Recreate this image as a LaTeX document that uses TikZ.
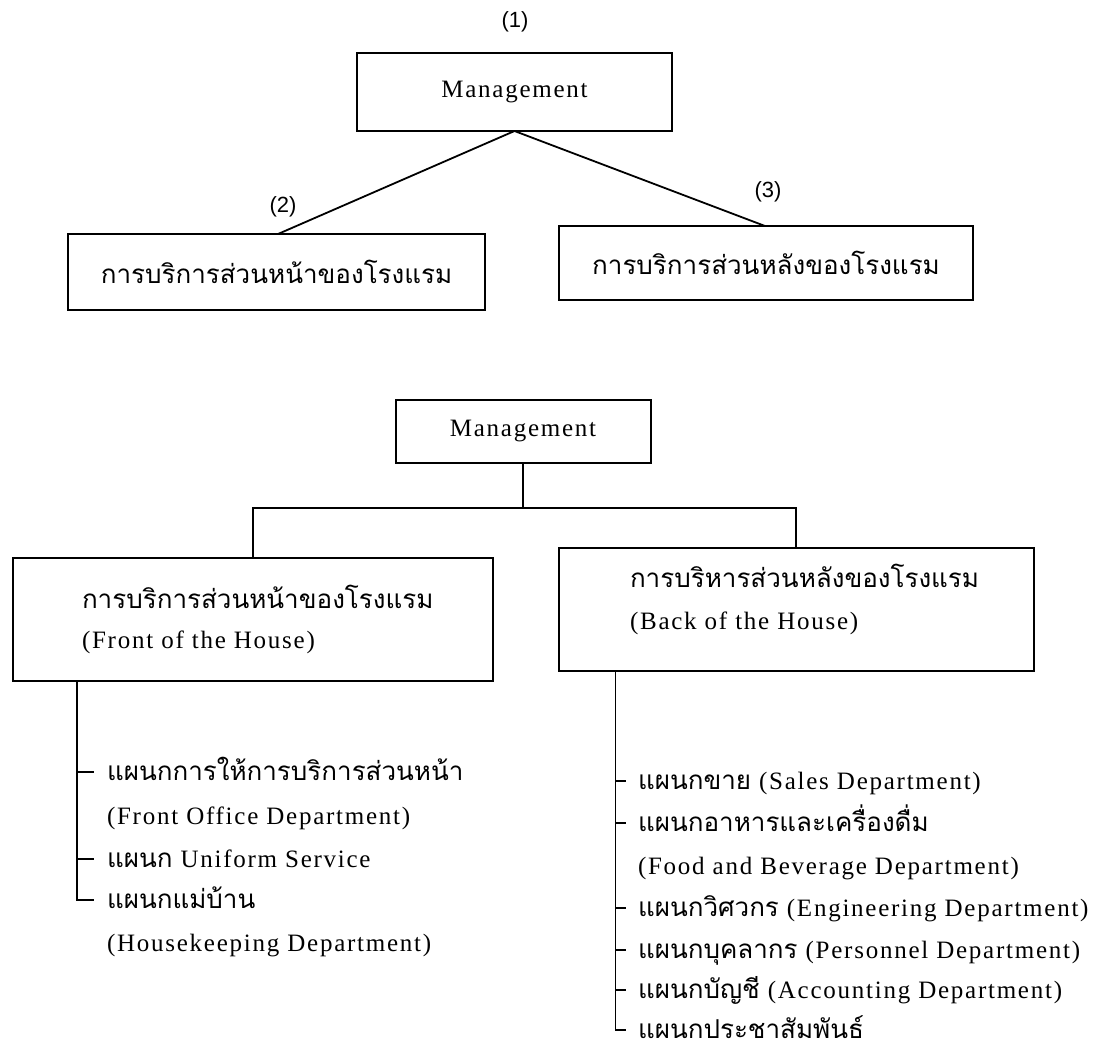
\documentclass[tikz,border=0pt]{standalone}
\usepackage{fontspec}
\setmainfont{Liberation Serif}
\newfontfamily\thaif[Script=Thai]{Loma}
\newfontfamily\engsp[LetterSpace=7]{Liberation Serif}
\newfontfamily\labfont{Liberation Sans}
\newcommand\tsz{\fontsize{26}{30}\selectfont}
\newcommand\esz{\fontsize{25}{29}\selectfont}
\begin{document}
\begin{tikzpicture}[x=1pt,y=-1pt,
  every node/.style={inner sep=0pt, outer sep=0pt},
  box/.style={draw, line width=2pt},
  conn/.style={line width=1.8pt},
  tbig/.style={font=\thaif\tsz},
  eng/.style={font=\engsp\esz},
  lab/.style={font=\labfont\fontsize{22}{26}\selectfont},
  item/.style={anchor=base west, font=\engsp\esz}]
\useasboundingbox (0,0) rectangle (1099,1050);
% ---------- upper chart ----------
\node[lab] (n1) at (515,22) {(1)};
\node[box, eng, minimum width=315pt, minimum height=78pt] (m1) at (514.5,92) {Management};
\node[box, tbig, minimum width=417pt, minimum height=76pt] (f1) at (276.5,272) {การบริการส่วนหน้าของโรงแรม};
\node[box, tbig, minimum width=414pt, minimum height=74pt] (b1) at (766,263) {การบริการส่วนหลังของโรงแรม};
\coordinate (f1t) at ([xshift=210pt]f1.north west);
\coordinate (b1t) at ([xshift=206pt]b1.north west);
\draw[conn] (m1.south) -- (f1t);
\draw[conn] (m1.south) -- (b1t);
\node[lab] (n2) at (283,207) {(2)};
\node[lab] (n3) at (768,192) {(3)};
% ---------- lower chart ----------
\node[box, eng, minimum width=255pt, minimum height=63pt] (m2) at (523,431.5) {Management};
\node[box, minimum width=480pt, minimum height=123pt] (f2) at (253,619.5) {};
\node[box, minimum width=475pt, minimum height=123pt] (b2) at (796,609.5) {};
\draw[conn] (m2.south) -- ++(0,45) coordinate (j);
\draw[conn] (f2.north) |- (j) -| (b2.north);
\node[item, font=\thaif\tsz] (f2a) at (82,608) {การบริการส่วนหน้าของโรงแรม};
\node[item] (f2b) at (82,648) {(Front of the House)};
\node[item, font=\thaif\tsz] (b2a) at (630,587) {การบริหารส่วนหลังของโรงแรม};
\node[item] (b2b) at (630,629) {(Back of the House)};
% left list
\node[item] (la) at (107,780) {{\thaif\tsz แผนกการให้การบริการส่วนหน้า}};
\node[item] (lb) at (107,824) {(Front Office Department)};
\node[item] (lc) at (107,867) {{\thaif\tsz แผนก} Uniform Service};
\node[item] (ld) at (107,908) {{\thaif\tsz แผนกแม่บ้าน}};
\node[item] (le) at (107,951) {(Housekeeping Department)};
\coordinate (fl) at ([xshift=64pt]f2.south west);
\foreach \r in {la,lc,ld}
  \coordinate (\r t) at ([xshift=-13pt,yshift=8pt]\r.base west);
\draw[conn] (fl) |- (ldt);
\foreach \r in {la,lc}
  \draw[conn] (fl |- \r t) -- (\r t);
% right list
\node[item] (ra) at (638,789) {{\thaif\tsz แผนกขาย} (Sales Department)};
\node[item] (rb) at (638,831) {{\thaif\tsz แผนกอาหารและเครื่องดื่ม}};
\node[item] (rc) at (638,874) {(Food and Beverage Department)};
\node[item] (rd) at (638,916) {{\thaif\tsz แผนกวิศวกร} (Engineering Department)};
\node[item] (re) at (638,958) {{\thaif\tsz แผนกบุคลากร} (Personnel Department)};
\node[item] (rf) at (638,998) {{\thaif\tsz แผนกบัญชี} (Accounting Department)};
\node[item] (rg) at (638,1038) {{\thaif\tsz แผนกประชาสัมพันธ์}};
\coordinate (bl) at ([xshift=57pt]b2.south west);
\foreach \r in {ra,rb,rd,re,rf,rg}
  \coordinate (\r t) at ([xshift=-12pt,yshift=8pt]\r.base west);
\draw[conn] (bl) |- (rgt);
\foreach \r in {ra,rb,rd,re,rf}
  \draw[conn] (bl |- \r t) -- (\r t);
\end{tikzpicture}
\end{document}
